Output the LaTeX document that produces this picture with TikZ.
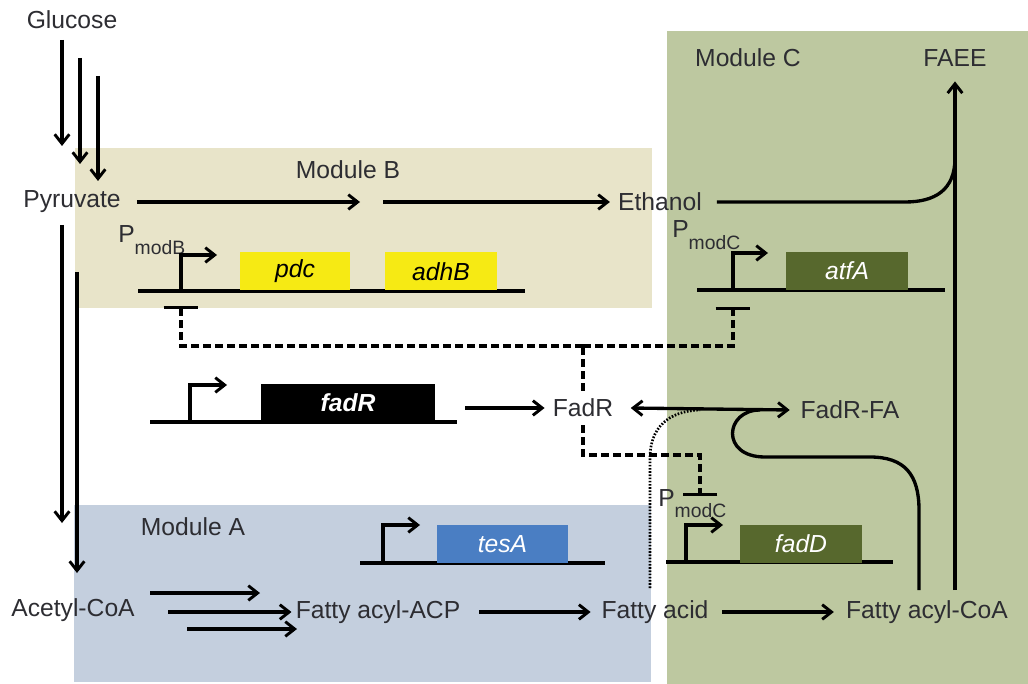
\documentclass[tikz,border=0pt]{standalone}
\usepackage{fontspec}
\setmainfont{Liberation Sans}
\usetikzlibrary{arrows.meta}
\definecolor{bgA}{RGB}{196,207,222}
\definecolor{bgB}{RGB}{232,228,201}
\definecolor{bgC}{RGB}{189,200,160}
\definecolor{genY}{RGB}{246,234,20}
\definecolor{genG}{RGB}{87,104,45}
\definecolor{genBl}{RGB}{74,126,195}
\definecolor{txt}{RGB}{45,45,50}
\begin{document}
\begin{tikzpicture}[x=0.75pt,y=-0.75pt,
  every node/.style={font=\fontsize{18.5}{21}\selectfont, text=txt, inner sep=0pt},
  ln/.style={line width=2.5pt},
  flow/.style={line width=2.5pt,-{Straight Barb[length=7pt,width=11pt,line width=2.2pt]}},
  dflow/.style={line width=2.5pt,{Straight Barb[length=7pt,width=11pt,line width=2.2pt]}-{Straight Barb[length=7pt,width=11pt,line width=2.2pt]}},
  rep/.style={line width=2.4pt,dash pattern=on 6pt off 3pt},
  repbar/.style={-{Bar[width=26pt,line width=2.4pt]}},
  dotl/.style={line width=2pt,dash pattern=on 1.2pt off 1.2pt},
  dna/.style={line width=2.8pt},
  prom/.style={line width=2.5pt,-{Straight Barb[length=7pt,width=11pt,line width=2.2pt]}},
  gene/.style={minimum height=28.5pt, font=\fontsize{18.5}{21}\selectfont\itshape}
]
\useasboundingbox (0,0) rectangle (1028,684);
% backgrounds
\fill[bgC] (667,31) rectangle (1028,684);
\fill[bgB] (75,148) rectangle (652,308);
\fill[bgA] (74,505) rectangle (651,682);

% text nodes
\node (glucose) at (72,20) {Glucose};
\node (pyr) at (72,202) {Pyruvate};
\node (modB) at (348,170) {Module B};
\node (eth) at (660,202) {Ethanol};
\node (modC) at (748,58) {Module C};
\node (faee) at (955,58) {FAEE};
\node (fadRp) at (583,408) {FadR};
\node (fadRFA) at (850,410) {FadR-FA};
\node (modA) at (193,527) {Module A};
\node (acoa) at (73,610) {Acetyl-CoA};
\node (acp) at (378,612) {Fatty acyl-ACP};
\node (fa) at (655,612) {Fatty acid};
\node (facoa) at (927,612) {Fatty acyl-CoA};
\node[anchor=base west] (pB) at (118,243) {P\raisebox{-0.9ex}{\fontsize{14.5}{16}\selectfont modB}};
\node[anchor=base west] (pC1) at (672,238) {P\raisebox{-0.9ex}{\fontsize{14.5}{16}\selectfont modC}};
\node[anchor=base west] (pC2) at (658,506) {P\raisebox{-0.9ex}{\fontsize{14.5}{16}\selectfont modC}};

% glucose -> pyruvate
\draw[flow] (62,40) coordinate (g1a) -- (62,146) coordinate (g1b);
\draw[flow] (80,58) coordinate (g2a) -- (80,164) coordinate (g2b);
\draw[flow] (98,76) coordinate (g3a) -- (98,181) coordinate (g3b);
% pyruvate -> acetyl-CoA
\draw[flow] (62,225) coordinate (p1a) -- (62,523) coordinate (p1b);
\draw[flow] (77,272) coordinate (p2a) -- (77,573) coordinate (p2b);
% pyruvate -> ethanol
\draw[flow] ([xshift=12pt]pyr.east) -- (360,202) coordinate (pb);
\draw[flow] (383,202) coordinate (pc) -- ([xshift=-6pt]eth.west);
% ethanol -> FAEE
\draw[ln] ([xshift=11pt]eth.east) -- (905,202) .. controls (935,202) and (955,190) .. (955,158);
\draw[flow] (955,590) coordinate (fv) -- ([yshift=-11pt]faee.south);

% acetyl-CoA -> fatty acyl-ACP
\draw[flow] (150,593) coordinate (a1) -- (260,593) coordinate (a1e);
\draw[flow] (168,612) coordinate (a2) -- ([xshift=-3pt]acp.west);
\draw[flow] (187,629) coordinate (a3) -- (297,629) coordinate (a3e);
\draw[flow] ([xshift=14pt]acp.east) -- ([xshift=-8pt]fa.west);
\draw[flow] ([xshift=10pt]fa.east) -- ([xshift=-9pt]facoa.west);

% Module B genes
\draw[dna] (138,291) coordinate (dB1) -- (525,291) coordinate (dB2);
\draw[prom] (181,291) coordinate (prB) |- (217,255);
\node[gene,fill=genY,minimum width=83pt,text=black] (pdc) at (295,271.5) {pdc};
\node[gene,fill=genY,minimum width=84pt,text=black] (adhB) at (441,271.5) {adhB};

% Module C atfA
\draw[dna] (697,290) coordinate (dC1) -- (945,290) coordinate (dC2);
\draw[prom] (733,290) coordinate (prC) |- (768,253);
\node[gene,fill=genG,minimum width=91.5pt,text=white] (atfA) at (847,271) {atfA};

% fadR
\draw[dna] (150,422) coordinate (dR1) -- (457,422) coordinate (dR2);
\draw[prom] (190,422) coordinate (prR) |- (227,385);
\node[gene,fill=black,minimum width=130.5pt,text=white,font=\fontsize{18.5}{21}\selectfont\bfseries\itshape] (fadR) at (348,403) {fadR};
\draw[flow] (465,408) coordinate (r1) -- ([xshift=-6pt]fadRp.west);

% tesA
\draw[dna] (360,563) coordinate (dA1) -- (605,563) coordinate (dA2);
\draw[prom] (383,563) coordinate (prA) |- (420,525);
\node[gene,fill=genBl,minimum width=98pt,text=white] (tesA) at (502.5,544) {tesA};

% fadD
\draw[dna] (666,562) coordinate (dD1) -- (893,562) coordinate (dD2);
\draw[prom] (686,562) coordinate (prD) |- (723,525);
\node[gene,fill=genG,minimum width=91.5pt,text=white] (fadD) at (801,543.5) {fadD};

% FadR <-> FadR-FA
\draw[dflow] ([xshift=13pt]fadRp.east) -- ([xshift=-8pt]fadRFA.west);

% repression lines
\draw[rep] ([yshift=6pt]fadRp.north) -- (583,346) coordinate (j1);
\draw[rep,repbar] (j1) -- (181,346) -- (181,306) coordinate (tB);
\draw[rep,repbar] (j1) -- (733,346) -- (733,307) coordinate (tC);
\draw[rep,repbar] ([yshift=-6pt]fadRp.south) -- (583,455) -- (700,455) -- (700,496) coordinate (tD);

% dotted: fatty acid -> FadR-FA
\draw[dotl] (650,588) coordinate (d0) -- (650,458) .. controls (650,428) and (668,411) .. (700,410);

% fatty acyl-CoA -> FadR-FA hook
\draw[ln] (919,590) coordinate (h0) -- (919,510) .. controls (919,475) and (905,457) .. (870,457) -- (765,457)
  .. controls (720,457) and (725,410) .. (760,410);
\end{tikzpicture}
\end{document}
